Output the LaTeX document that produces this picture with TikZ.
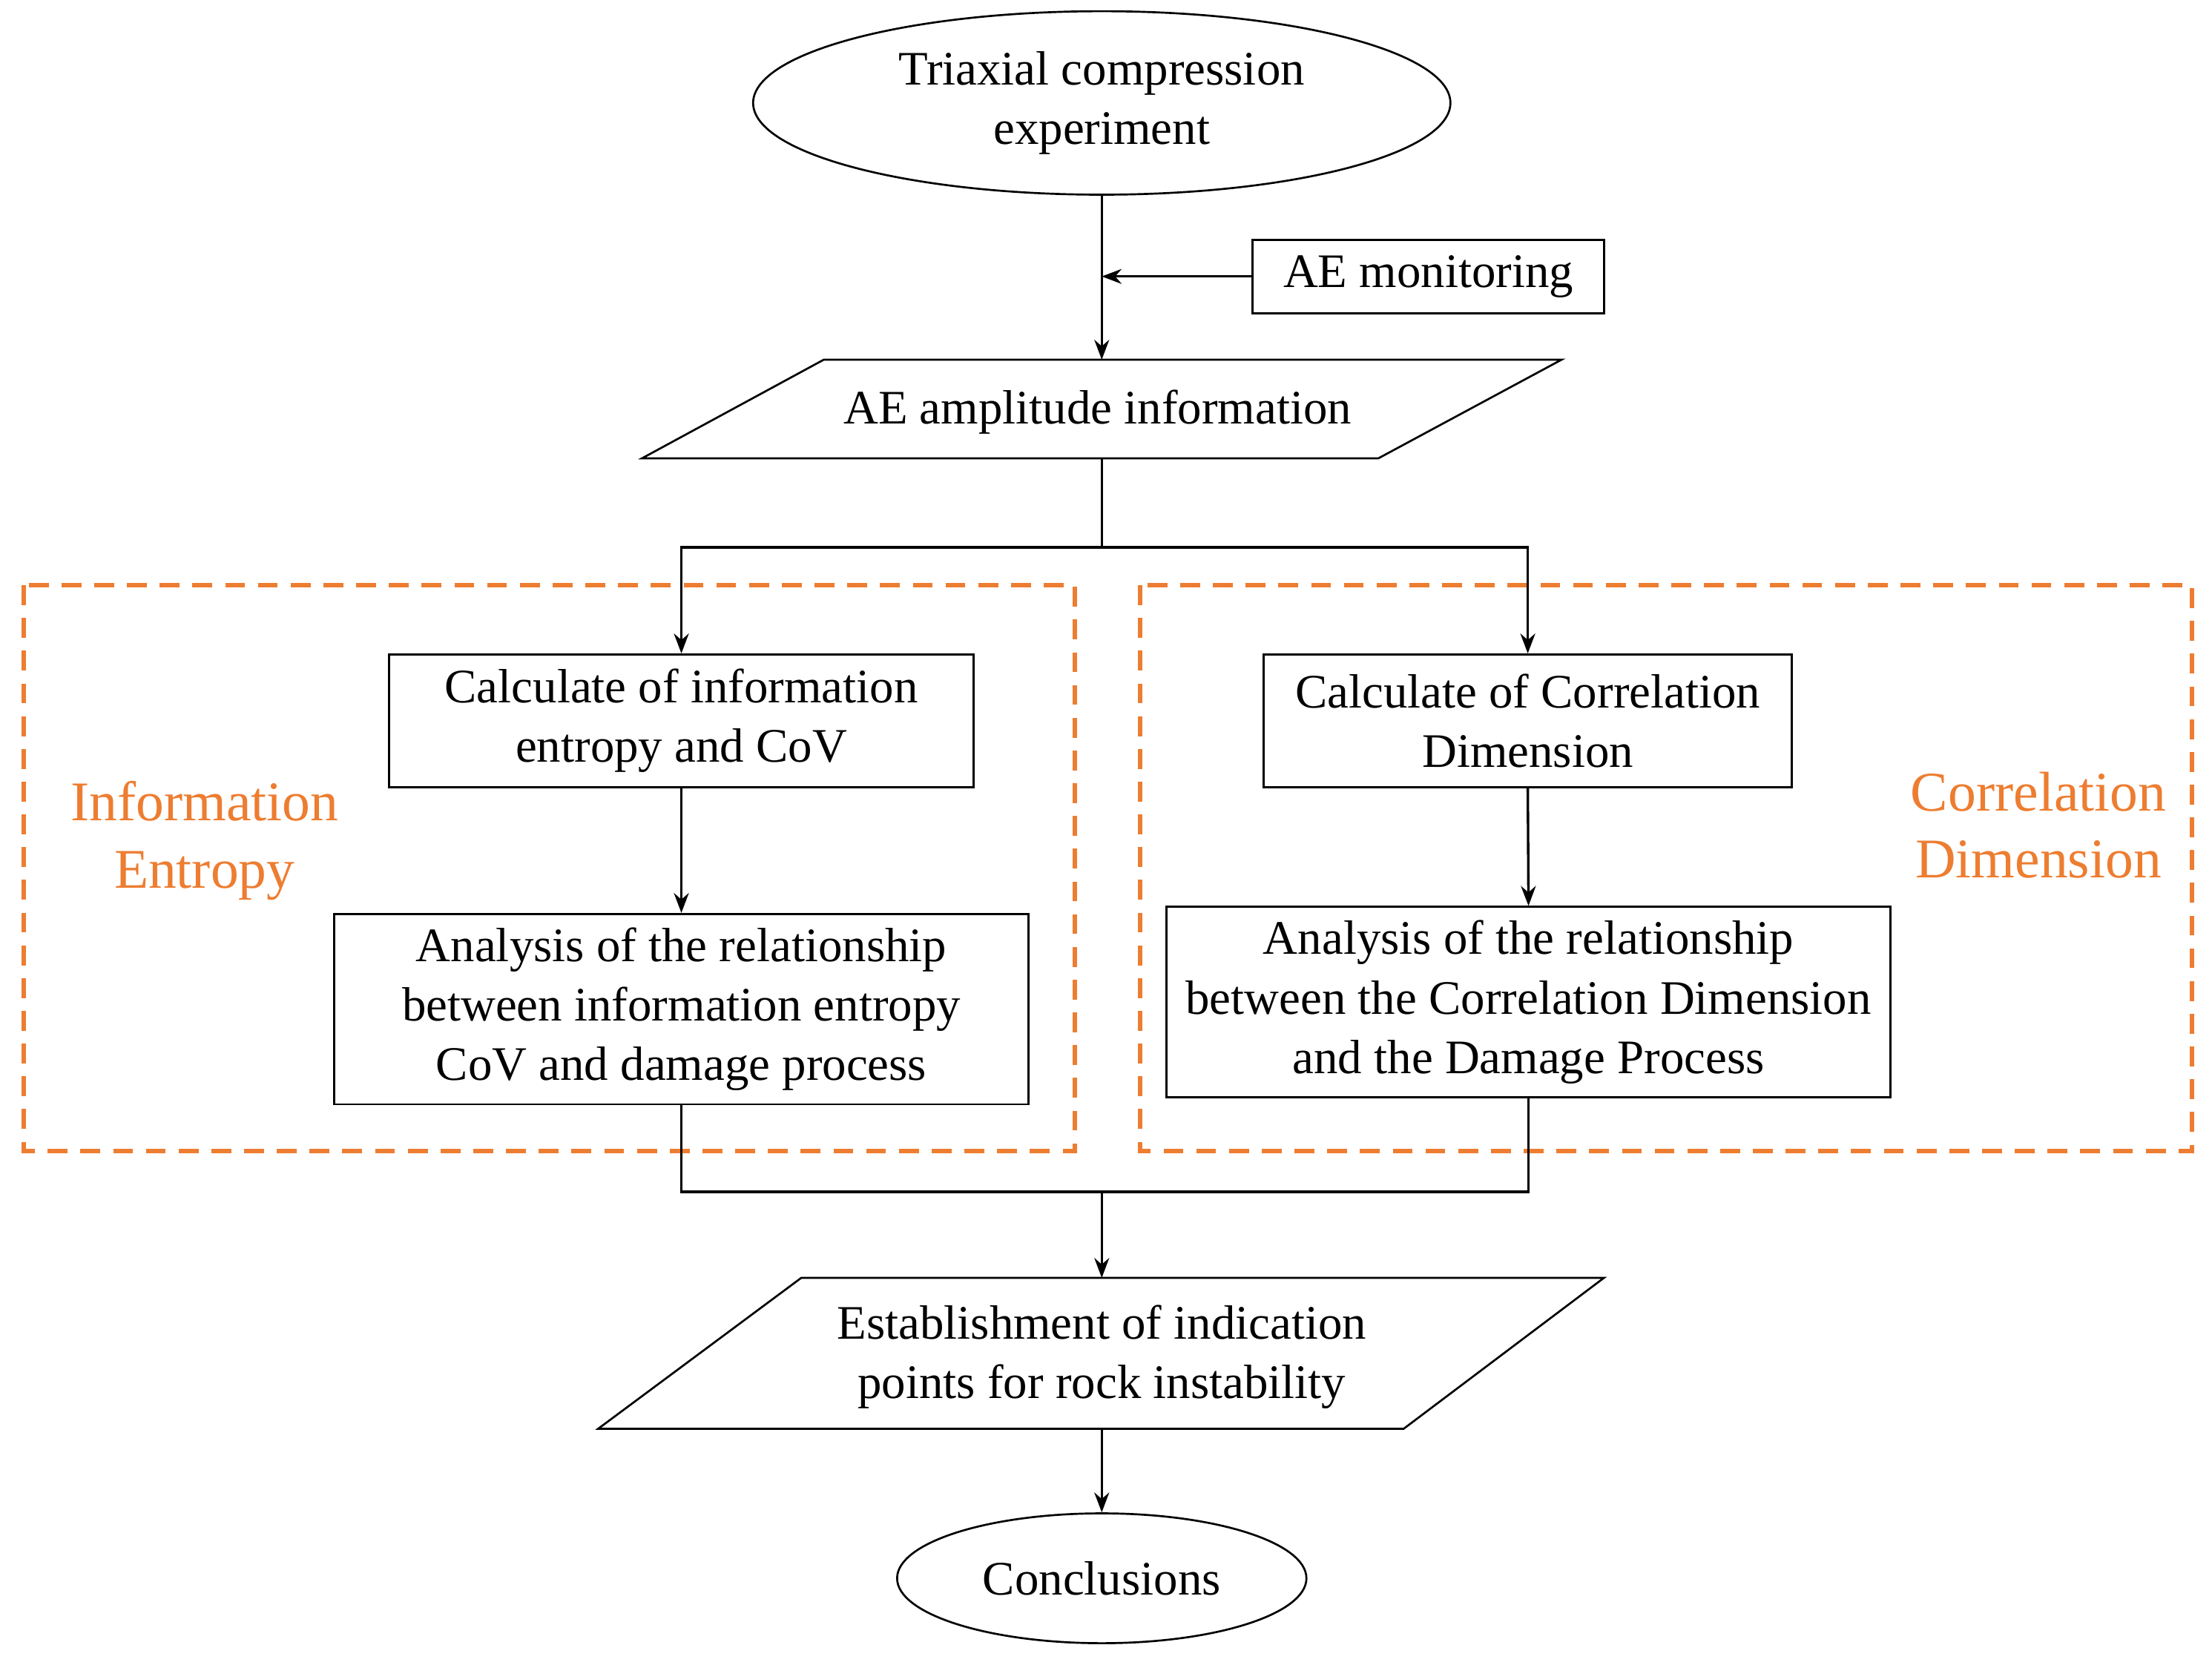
\documentclass[tikz,border=0pt]{standalone}
\usepackage{fontspec}
\setmainfont{Liberation Serif}
\usetikzlibrary{shapes.geometric,arrows.meta}
\definecolor{org}{RGB}{237,125,49}
\begin{document}
\begin{tikzpicture}[x=0.01cm,y=-0.01cm,
  txt/.style={font=\fontsize{9.7}{12}\selectfont,align=center,inner sep=0pt},
  box/.style={draw,line width=0.4pt},
  ln/.style={line width=0.5pt},
  arr/.style={ln,-{Stealth[length=4pt,width=3pt]}},
  grp/.style={draw=org,line width=0.9pt,dash pattern=on 4pt off 2.6pt},
  lab/.style={font=\fontsize{11.3}{13.5}\selectfont,align=center,text=org,inner sep=0pt}]
\useasboundingbox (0,0) rectangle (1568,1180);
% top ellipse
\node[ellipse,draw,line width=0.4pt,minimum width=494\pgflinewidth*0+4.94cm,minimum height=1.30cm,txt] (start) at (781,73) {Triaxial compression\\experiment};
\node[box,minimum width=2.49cm,minimum height=0.52cm,txt] (mon) at (1012.5,196) {AE monitoring};
% parallelogram 1
\draw[line width=0.4pt] (584,255) -- (1107,255) -- (977,325) -- (455,325) -- cycle;
\node[txt] (p1) at (778,292) {AE amplitude information};
\coordinate (p1t) at (781,255);
\coordinate (p1b) at (781,325);
\coordinate (j) at (781,196);
\draw[ln] (start.south) -- (j);
\draw[arr] (j) -- (p1t);
\draw[arr] (mon.west) -- (j);
% groups
\draw[grp] (17,415) rectangle (762,816);
\draw[grp] (808,415) rectangle (1554,816);
\node[lab] (le) at (145,596) {Information\\Entropy};
\node[lab] (lc) at (1445,585) {Correlation\\Dimension};
% boxes
\node[box,minimum width=4.14cm,minimum height=0.94cm,txt] (l1) at (483,511) {Calculate of information\\entropy and CoV};
\node[box,minimum width=3.74cm,minimum height=0.94cm,txt] (r1) at (1083,511) {Calculate of Correlation\\Dimension};
\node[box,minimum width=4.92cm,minimum height=1.35cm,txt] (l2) at (483,715.5) {Analysis of the relationship\\between information entropy\\CoV and damage process};
\node[box,minimum width=5.13cm,minimum height=1.35cm,txt] (r2) at (1083.5,710.5) {Analysis of the relationship\\between the Correlation Dimension\\and the Damage Process};
\coordinate (s) at (781,388);
\draw[ln] (p1b) -- (s);
\draw[arr] (s) -| (l1.north);
\draw[arr] (s) -| (r1.north);
\draw[arr] (l1.south) -- (l2.north);
\draw[arr] (r1.south) -- (r2.north);
\coordinate (m) at (781,845);
\draw[ln] (l2.south) |- (m);
\draw[ln] (r2.south) |- (m);
% parallelogram 2
\draw[line width=0.4pt] (568,906) -- (1137,906) -- (995,1013) -- (424,1013) -- cycle;
\node[txt] (p2) at (781,962) {Establishment of indication\\points for rock instability};
\coordinate (p2t) at (781,906);
\coordinate (p2b) at (781,1013);
\draw[arr] (m) -- (p2t);
\node[ellipse,draw,line width=0.4pt,minimum width=2.90cm,minimum height=0.92cm,txt] (end) at (781,1119) {Conclusions};
\draw[arr] (p2b) -- (end.north);
\end{tikzpicture}
\end{document}
